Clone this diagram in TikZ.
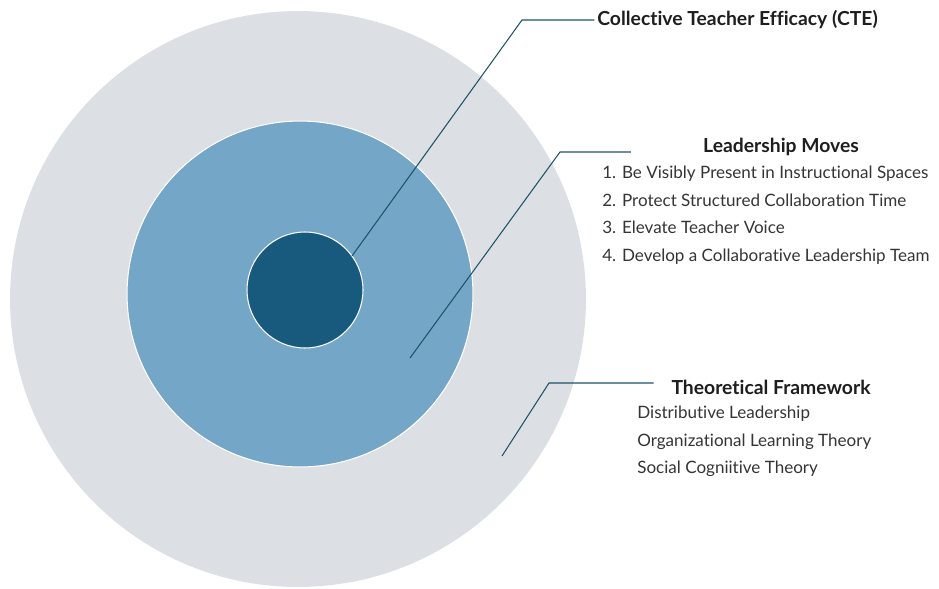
\documentclass[tikz,border=0pt]{standalone}
\usepackage{fontspec}
\setmainfont{Lato}[Ligatures=NoCommon]
\usepackage{xcolor}
\usetikzlibrary{positioning}
\definecolor{ring-grey}{HTML}{DCE0E4}
\definecolor{ring-blue}{HTML}{74A6C7}
\definecolor{core-blue}{HTML}{175A7E}
\definecolor{lead-teal}{HTML}{1F5269}
\definecolor{label-ink}{HTML}{1E1E1E}

\begin{document}
\begin{tikzpicture}[x=0.02cm, y=-0.02cm]
	\tikzset{ring/.style={circle, inner sep=0pt, draw=white, line width=0.6pt}}
	\tikzset{lead/.style={lead-teal, line width=0.6pt}}
	\tikzset{head/.style={font=\fontsize{11}{13}\selectfont\bfseries, text=label-ink, inner sep=0pt}}
	\tikzset{item/.style={font=\fontsize{9.7}{12}\selectfont, text=label-ink!90, inner sep=0pt, anchor=west, text height=7.5pt, text depth=2.2pt}}
	\useasboundingbox[fill=white] (0,0) rectangle (939,588);
	% rings
	\node[ring, fill=ring-grey, draw=none, minimum size=11.52cm] (frame ring) at (298,299) {};
	\node[ring, fill=ring-blue, minimum size=6.92cm] (moves ring) at (300,294) {};
	\node[ring, fill=core-blue, minimum size=2.32cm] (cte core) at (305,290) {};
	% collective teacher efficacy
	\coordinate (cte tip) at (352,256);
	\coordinate (cte bend) at (522,20);
	\node[head, anchor=west] (cte) at (597,20) {Collective Teacher Efficacy (CTE)};
	\draw[lead, shorten >=1.5pt] (cte tip) -- (cte bend) -- (cte.west);
	% leadership moves
	\coordinate (moves tip) at (410,358);
	\coordinate (moves bend) at (560,152);
	\node[head] (moves) at (781,147) {Leadership Moves};
	\node[item] (move1) at (602,174) {1. Be Visibly Present in Instructional Spaces};
	\node[item, below=5.6pt of move1.south west, anchor=north west] (move2) {2. Protect Structured Collaboration Time};
	\node[item, below=5.6pt of move2.south west, anchor=north west] (move3) {3. Elevate Teacher Voice};
	\node[item, below=5.6pt of move3.south west, anchor=north west] (move4) {4. Develop a Collaborative Leadership Team};
	\draw[lead, shorten >=41pt] (moves tip) -- (moves bend) -- (moves bend -| moves.west);
	% theoretical framework
	\coordinate (theory tip) at (502,456);
	\coordinate (theory bend) at (549,383);
	\node[head] (theory) at (771,387) {Theoretical Framework};
	\node[item] (theory1) at (637,414) {Distributive Leadership};
	\node[item, below=5.6pt of theory1.south west, anchor=north west] (theory2) {Organizational Learning Theory};
	\node[item, below=5.6pt of theory2.south west, anchor=north west] (theory3) {Social Cogniitive Theory};
	\draw[lead, shorten >=10pt] (theory tip) -- (theory bend) -- (theory bend -| theory.west);
\end{tikzpicture}
\end{document}
